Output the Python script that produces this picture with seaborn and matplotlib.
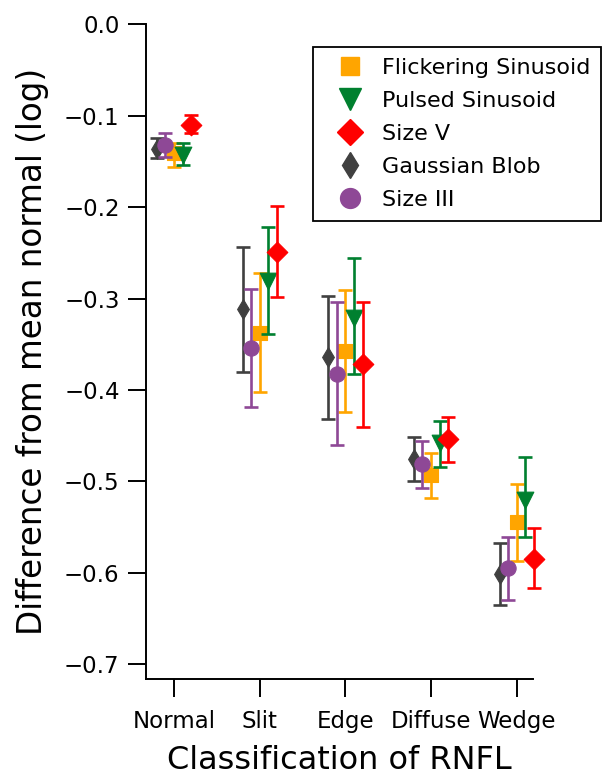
import matplotlib
matplotlib.use("Agg")
import matplotlib.pyplot as plt
from matplotlib.lines import Line2D
import numpy as np
import pandas as pd
import seaborn as sns

categories = ["Normal", "Slit", "Edge", "Diffuse", "Wedge"]
series_names = ["Flickering Sinusoid", "Pulsed Sinusoid", "Size V", "Gaussian Blob", "Size III"]

flick_mean = [-0.141, -0.338, -0.357, -0.493, -0.544]
flick_lo = [-0.156, -0.402, -0.424, -0.518, -0.587]
flick_hi = [-0.130, -0.272, -0.291, -0.469, -0.503]

pulsed_mean = [-0.143, -0.281, -0.321, -0.458, -0.520]
pulsed_lo = [-0.154, -0.339, -0.383, -0.484, -0.561]
pulsed_hi = [-0.130, -0.222, -0.256, -0.434, -0.473]

sizev_mean = [-0.110, -0.249, -0.372, -0.454, -0.585]
sizev_lo = [-0.119, -0.298, -0.440, -0.479, -0.617]
sizev_hi = [-0.099, -0.199, -0.304, -0.430, -0.551]

gauss_mean = [-0.136, -0.311, -0.364, -0.475, -0.601]
gauss_lo = [-0.146, -0.380, -0.432, -0.499, -0.635]
gauss_hi = [-0.125, -0.244, -0.297, -0.451, -0.567]

size3_mean = [-0.132, -0.354, -0.383, -0.481, -0.595]
size3_lo = [-0.145, -0.419, -0.460, -0.507, -0.630]
size3_hi = [-0.119, -0.290, -0.304, -0.456, -0.561]

yticks = [0.0, -0.1, -0.2, -0.3, -0.4, -0.5, -0.6, -0.7]
ytick_labels = ["0.0", "\u22120.1", "\u22120.2", "\u22120.3", "\u22120.4", "\u22120.5", "\u22120.6", "\u22120.7"]

colors = {"Flickering Sinusoid": "#FFA500", "Pulsed Sinusoid": "#00802F",
          "Size V": "#FF0000", "Gaussian Blob": "#404040", "Size III": "#8E4896"}
markers = {"Flickering Sinusoid": "s", "Pulsed Sinusoid": "v", "Size V": "D",
           "Gaussian Blob": "d", "Size III": "o"}
msizes = {"Flickering Sinusoid": 10.5, "Pulsed Sinusoid": 12, "Size V": 10.5,
          "Gaussian Blob": 10, "Size III": 11}
offsets = {"Flickering Sinusoid": 0.0, "Pulsed Sinusoid": 0.1, "Size V": 0.2,
           "Gaussian Blob": -0.2, "Size III": -0.1}

means = [flick_mean, pulsed_mean, sizev_mean, gauss_mean, size3_mean]
los = [flick_lo, pulsed_lo, sizev_lo, gauss_lo, size3_lo]
his = [flick_hi, pulsed_hi, sizev_hi, gauss_hi, size3_hi]

rows = []
for name, m, lo, hi in zip(series_names, means, los, his):
    for i, c in enumerate(categories):
        rows.append(dict(series=name, category=c, idx=i, mean=m[i], lo=lo[i], hi=hi[i]))
df = pd.DataFrame(rows)
df["x"] = df["idx"] + df["series"].map(offsets)

sns.set_style("ticks")
plt.rcParams["font.family"] = ["DejaVu Sans"]
plt.rcParams["text.color"] = "black"
plt.rcParams["axes.labelcolor"] = "black"
plt.rcParams["xtick.color"] = "black"
plt.rcParams["ytick.color"] = "black"

fig = plt.figure(figsize=(6.06, 7.8), dpi=100)
ax = fig.add_axes([0.241, 0.1295, 0.6385, 0.8395])

for z, name in enumerate(series_names):
    d = df[df["series"] == name]
    col = colors[name]
    eb = ax.errorbar(d["x"], d["mean"], yerr=[d["mean"] - d["lo"], d["hi"] - d["mean"]],
                     fmt="none", ecolor=col, elinewidth=1.9, capsize=5, capthick=1.9,
                     zorder=2 + 2 * z)
    for art in eb.lines[1] + eb.lines[2]:
        art.set_clip_on(False)
    sns.scatterplot(x=d["x"], y=d["mean"], marker=markers[name], color=col,
                    s=msizes[name] ** 2, linewidth=0.8, edgecolor=col, ax=ax,
                    zorder=3 + 2 * z, legend=False)
for coll in ax.collections:
    coll.set_clip_on(False)

ax.set_xlim(-0.327, 4.19)
ax.set_ylim(-0.716, 0.0)
ax.set_xticks(range(len(categories)))
ax.set_xticklabels(categories, fontsize=16.5)
ax.set_yticks(yticks)
ax.set_yticklabels(ytick_labels, fontsize=16.5)
ax.tick_params(axis="both", direction="out", length=13, width=1.4, color="black",
               labelcolor="black")
ax.tick_params(axis="x", pad=9)
ax.tick_params(axis="y", pad=6)
for s in ["top", "right"]:
    ax.spines[s].set_visible(False)
for s in ["left", "bottom"]:
    ax.spines[s].set_linewidth(1.4)
    ax.spines[s].set_color("black")

ax.set_xlabel("Classification of RNFL", fontsize=23, labelpad=9, color="black")
ax.set_ylabel("Difference from mean normal (log)", fontsize=23.5, labelpad=11, color="black")

handles = [Line2D([], [], marker=markers[n], color=colors[n], linestyle="none",
                  markersize=msizes[n] * 1.3) for n in series_names]
leg = fig.legend(handles, series_names, loc="upper left",
                 bbox_to_anchor=(313 / 606, 1 - 47 / 780), bbox_transform=fig.transFigure,
                 borderaxespad=0.0,
                 fontsize=16, frameon=True, fancybox=False, framealpha=1,
                 edgecolor="black", borderpad=0.5, labelspacing=0.58,
                 handlelength=2.3, handletextpad=0.3)
leg.get_frame().set_linewidth(1.3)
for t in leg.get_texts():
    t.set_color("black")

fig.savefig("out.png", dpi=100)
